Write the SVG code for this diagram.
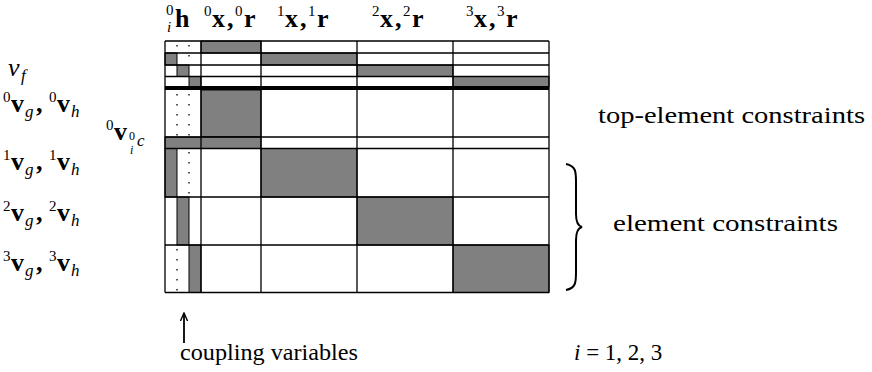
<svg xmlns="http://www.w3.org/2000/svg" width="872" height="372" viewBox="0 0 872 372">
<style>
text{font-family:"Liberation Serif","DejaVu Serif","Times New Roman",serif;fill:#000}
.b{font-weight:bold;font-size:26px}
.s{font-size:15px}
.it{font-style:italic}
.sub{font-size:17px;font-style:italic}
.lbl{font-size:23px}
.g{fill:#808080;stroke:#000;stroke-width:1}
.ln{stroke:#000;stroke-width:1.3;fill:none}
.dot{stroke:#000;stroke-width:1.3;stroke-dasharray:1.4 8.6;fill:none}
</style>
<defs>
<marker id="ah" viewBox="0 0 10 10" refX="9" refY="5" markerWidth="9" markerHeight="9" orient="auto" markerUnits="userSpaceOnUse">
<path d="M0,1 L9,5 L0,9" fill="none" stroke="#000" stroke-width="1.5"/>
</marker>
</defs>

<g id="matrix">
<rect x="165" y="41" width="384" height="251.5" fill="#fff"/>
<rect class="g" x="201" y="41" width="60" height="12"/>
<rect class="g" x="165" y="53" width="12" height="12"/>
<rect class="g" x="261" y="53" width="96" height="12"/>
<rect class="g" x="177" y="65" width="12" height="11.5"/>
<rect class="g" x="357" y="65" width="96" height="11.5"/>
<rect class="g" x="189" y="76.5" width="12" height="10"/>
<rect class="g" x="453" y="76.5" width="96" height="10"/>
<rect class="g" x="201" y="90" width="60" height="47"/>
<rect class="g" x="165" y="137" width="96" height="11.5"/>
<rect class="g" x="165" y="148.5" width="12" height="48.5"/>
<rect class="g" x="261" y="148.5" width="96" height="48.5"/>
<rect class="g" x="177" y="197" width="12" height="48"/>
<rect class="g" x="357" y="197" width="96" height="48"/>
<rect class="g" x="189" y="245" width="12" height="47.5"/>
<rect class="g" x="453" y="245" width="96" height="47.5"/>
<line class="dot" x1="177" y1="45" x2="177" y2="53"/>
<line class="dot" x1="189" y1="45" x2="189" y2="65"/>
<line class="dot" x1="177" y1="94" x2="177" y2="137"/>
<line class="dot" x1="189" y1="94" x2="189" y2="137"/>
<line class="dot" x1="189" y1="152" x2="189" y2="197"/>
<line class="dot" x1="177" y1="249" x2="177" y2="292"/>
<path class="ln" d="M165,41H549M165,53H549M165,65H549M165,76.5H549M165,137H549M165,148.5H549M165,197H549M165,245H549M165,292.5H549"/>
<path class="ln" d="M165,41V292.5M201,41V292.5M261,41V292.5M357,41V292.5M453,41V292.5M549,41V292.5"/>
<rect x="165" y="86" width="384" height="4" fill="#000"/>
</g>

<g id="col-headers">
<text><tspan class="s" x="166" y="15">0</tspan><tspan class="s it" x="167" y="32">i</tspan><tspan class="b" x="175" y="27">h</tspan></text>
<text><tspan class="s" x="204" y="16">0</tspan><tspan class="b" x="212" y="27">x</tspan><tspan class="b" x="227" y="27">,</tspan><tspan class="s" x="235" y="16">0</tspan><tspan class="b" x="244" y="27">r</tspan></text>
<text><tspan class="s" x="277" y="16">1</tspan><tspan class="b" x="285" y="27">x</tspan><tspan class="b" x="300" y="27">,</tspan><tspan class="s" x="308" y="16">1</tspan><tspan class="b" x="317" y="27">r</tspan></text>
<text><tspan class="s" x="372" y="16">2</tspan><tspan class="b" x="380" y="27">x</tspan><tspan class="b" x="395" y="27">,</tspan><tspan class="s" x="403" y="16">2</tspan><tspan class="b" x="412" y="27">r</tspan></text>
<text><tspan class="s" x="466" y="16">3</tspan><tspan class="b" x="474" y="27">x</tspan><tspan class="b" x="489" y="27">,</tspan><tspan class="s" x="497" y="16">3</tspan><tspan class="b" x="506" y="27">r</tspan></text>
</g>

<g id="row-labels">
<text><tspan class="it" font-size="26" x="8" y="76">v</tspan><tspan class="sub" x="21" y="81">f</tspan></text>
<text><tspan class="s" x="3" y="102">0</tspan><tspan class="b" x="11" y="112">v</tspan><tspan class="sub" x="25" y="117">g</tspan><tspan class="b" x="36" y="112">,</tspan><tspan class="s" x="49" y="102">0</tspan><tspan class="b" x="57" y="112">v</tspan><tspan class="sub" x="71" y="117">h</tspan></text>
<text><tspan class="s" x="106" y="130">0</tspan><tspan class="b" x="114" y="140">v</tspan><tspan font-size="12" x="129" y="140">0</tspan><tspan font-size="12" class="it" x="130" y="154">i</tspan><tspan class="sub" x="137" y="146">c</tspan></text>
<text><tspan class="s" x="3" y="160">1</tspan><tspan class="b" x="11" y="170">v</tspan><tspan class="sub" x="25" y="175">g</tspan><tspan class="b" x="36" y="170">,</tspan><tspan class="s" x="49" y="160">1</tspan><tspan class="b" x="57" y="170">v</tspan><tspan class="sub" x="71" y="175">h</tspan></text>
<text><tspan class="s" x="3" y="211">2</tspan><tspan class="b" x="11" y="221">v</tspan><tspan class="sub" x="25" y="226">g</tspan><tspan class="b" x="36" y="221">,</tspan><tspan class="s" x="49" y="211">2</tspan><tspan class="b" x="57" y="221">v</tspan><tspan class="sub" x="71" y="226">h</tspan></text>
<text><tspan class="s" x="3" y="261">3</tspan><tspan class="b" x="11" y="271">v</tspan><tspan class="sub" x="25" y="276">g</tspan><tspan class="b" x="36" y="271">,</tspan><tspan class="s" x="49" y="261">3</tspan><tspan class="b" x="57" y="271">v</tspan><tspan class="sub" x="71" y="276">h</tspan></text>
</g>

<g id="annotations">
<text class="lbl" x="598" y="123" textLength="267" lengthAdjust="spacingAndGlyphs">top-element constraints</text>
<path d="M566,164 C576,166 576,172 576,182 L576,214 C576,222 578,226 582,227 C578,228 576,232 576,240 L576,272 C576,282 576,288 566,290" fill="none" stroke="#000" stroke-width="2"/>
<text class="lbl" x="613" y="231" textLength="225" lengthAdjust="spacingAndGlyphs">element constraints</text>
<text class="lbl" x="180" y="360" textLength="178" lengthAdjust="spacingAndGlyphs">coupling variables</text>
<text class="lbl" x="574" y="360"><tspan class="it">i</tspan> = 1, 2, 3</text>
</g>

<g id="connectors">
<line x1="184" y1="343" x2="184" y2="313" stroke="#000" stroke-width="1.8" marker-end="url(#ah)"/>
</g>
</svg>
